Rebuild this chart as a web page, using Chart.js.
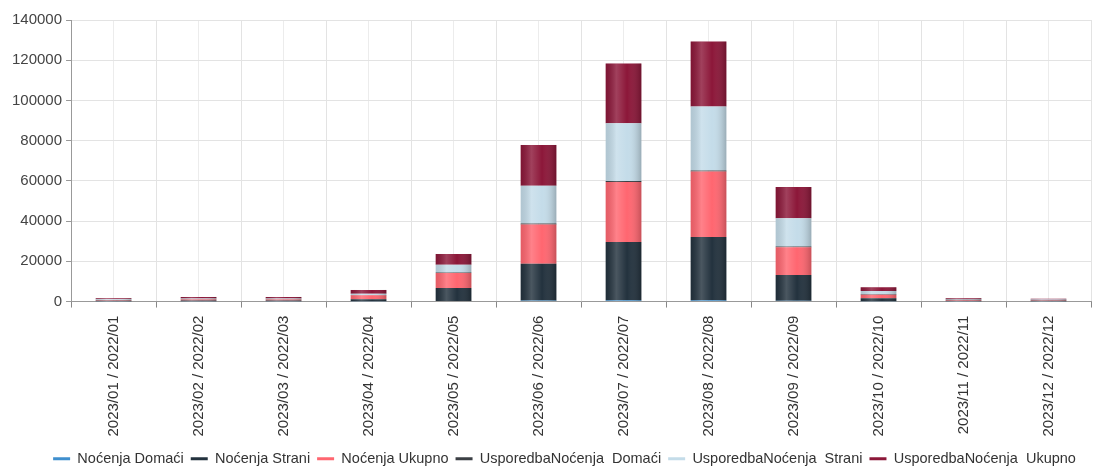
<!DOCTYPE html>
<html>
<head>
<meta charset="utf-8">
<script src="https://cdn.jsdelivr.net/npm/chart.js@4.4.0/dist/chart.umd.min.js"></script>
<style>
  html, body { margin: 0; padding: 0; background: #fff; }
  #wrap { width: 1105px; height: 468px; }
</style>
</head>
<body>
<div id="wrap"><canvas id="Chart"></canvas></div>
<script>
const labels = [
  "2023/01 / 2022/01", "2023/02 / 2022/02", "2023/03 / 2022/03", "2023/04 / 2022/04",
  "2023/05 / 2022/05", "2023/06 / 2022/06", "2023/07 / 2022/07", "2023/08 / 2022/08",
  "2023/09 / 2022/09", "2023/10 / 2022/10", "2023/11 / 2022/11", "2023/12 / 2022/12"
];
const nocenjaDomaci = [100, 150, 150, 200, 300, 500, 600, 600, 400, 200, 100, 100];
const nocenjaStrani = [250, 350, 350, 1000, 6500, 18300, 29000, 31500, 12800, 1500, 300, 250];
const nocenjaUkupno = [350, 500, 500, 1900, 7400, 19500, 29800, 32600, 13800, 1700, 400, 350];
const usporedbaDomaci = [100, 150, 100, 200, 300, 500, 500, 500, 400, 200, 100, 50];
const usporedbaStrani = [300, 400, 450, 600, 3800, 18800, 28700, 31800, 14000, 1600, 300, 250];
const usporedbaUkupno = [600, 750, 750, 1900, 5400, 20300, 29800, 32300, 15500, 1900, 500, 400];
const yTicks = [0, 20000, 40000, 60000, 80000, 100000, 120000, 140000];

const FONT = "Arial, 'Liberation Sans', sans-serif";

// gloss overlay on each bar, like the original's shaded columns
const barShade = {
  id: "barShade",
  afterDatasetsDraw(chart) {
    const ctx = chart.ctx;
    chart.data.datasets.forEach((ds, i) => {
      const meta = chart.getDatasetMeta(i);
      if (meta.hidden) return;
      meta.data.forEach((bar) => {
        const left = bar.x - bar.width / 2;
        const top = Math.min(bar.y, bar.base);
        const h = Math.abs(bar.base - bar.y);
        if (h <= 0) return;
        const g = ctx.createLinearGradient(left, 0, left + bar.width, 0);
        g.addColorStop(0, "rgba(0,0,0,0.10)");
        g.addColorStop(0.3, "rgba(255,255,255,0.18)");
        g.addColorStop(0.6, "rgba(255,255,255,0)");
        g.addColorStop(1, "rgba(0,0,0,0.22)");
        ctx.save();
        ctx.fillStyle = g;
        ctx.fillRect(left, top, bar.width, h);
        ctx.restore();
      });
    });
  }
};

// legend in the original sits a bit right of centre
const legendShift = {
  id: "legendShift",
  afterLayout(chart) {
    chart.legend.left += 15;
    chart.legend.right += 15;
  }
};

function ds(label, data, color) {
  return {
    label: label,
    data: data,
    backgroundColor: color,
    borderColor: color,
    borderWidth: 0,
    barPercentage: 0.42,
    categoryPercentage: 1.0
  };
}

new Chart(document.getElementById("Chart").getContext("2d"), {
  type: "bar",
  data: {
    labels: labels,
    datasets: [
      ds("Noćenja Domaći", nocenjaDomaci, "#3f8fce"),
      ds("Noćenja Strani", nocenjaStrani, "#23323e"),
      ds("Noćenja Ukupno", nocenjaUkupno, "#ff6670"),
      ds("UsporedbaNoćenja  Domaći", usporedbaDomaci, "#3b3f44"),
      ds("UsporedbaNoćenja  Strani", usporedbaStrani, "#c4dce9"),
      ds("UsporedbaNoćenja  Ukupno", usporedbaUkupno, "#8c1739")
    ]
  },
  options: {
    responsive: true,
    maintainAspectRatio: false,
    animation: false,
    layout: { padding: { top: 20, right: 14, left: 8, bottom: -8 } },
    plugins: {
      tooltip: { enabled: false },
      legend: {
        position: "bottom",
        labels: {
          boxWidth: 17,
          boxHeight: 3,
          padding: 7,
          color: "#333",
          font: { family: FONT, size: 14.5 }
        }
      }
    },
    scales: {
      x: {
        stacked: true,
        grid: { offset: true, color: "#e3e3e3", tickColor: "#888", tickLength: 6 },
        border: { color: "#999" },
        ticks: {
          minRotation: 90,
          maxRotation: 90,
          padding: 8,
          color: "#333",
          font: { family: FONT, size: 15 }
        }
      },
      x2: {
        type: "category",
        labels: labels,
        position: "bottom",
        display: true,
        offset: true,
        grid: { offset: false, color: "#ececec", drawTicks: false },
        border: { display: false },
        ticks: { display: false }
      },
      y: {
        stacked: true,
        min: 0,
        max: 140000,
        afterBuildTicks(axis) { axis.ticks = yTicks.map((v) => ({ value: v })); },
        grid: { color: "#e3e3e3", tickColor: "#999", tickLength: 5 },
        border: { color: "#999" },
        ticks: {
          padding: 4,
          color: "#444",
          font: { family: FONT, size: 15 },
          callback: (v) => String(v)
        }
      }
    }
  },
  plugins: [barShade, legendShift]
});
</script>
</body>
</html>
